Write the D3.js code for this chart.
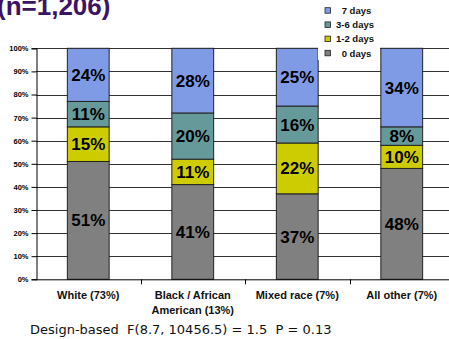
<!DOCTYPE html>
<html><head><meta charset="utf-8">
<script src="https://cdn.jsdelivr.net/npm/d3@7"></script>
<style>body{margin:0;background:#fff}svg{display:block}</style>
</head><body>
<svg id="c" width="449" height="339"></svg>
<script>
const categories = ["White (73%)", "Black / African American (13%)", "Mixed race (7%)", "All other (7%)"];
const categoryLines = [["White (73%)"], ["Black / African", "American (13%)"], ["Mixed race (7%)"], ["All other (7%)"]];
const seriesNames = ["0 days", "1-2 days", "3-6 days", "7 days"];
const days0 = [51, 41, 37, 48];
const days1_2 = [15, 11, 22, 10];
const days3_6 = [11, 20, 16, 8];
const days7 = [24, 28, 25, 34];
const yTicks = [0,10,20,30,40,50,60,70,80,90,100];
const colors = ["#808080", "#cccc00", "#669999", "#7f9be6"];
const title = "(n=1,206)";
const footnote = "Design-based  F(8.7, 10456.5) = 1.5  P = 0.13";

const series = [days0, days1_2, days3_6, days7];
const svg = d3.select("#c");
const pLeft = 36, pRight = 454, pTop = 48.3, pBottom = 279.3;
const x = d3.scaleBand().domain(categories).range([pLeft, pRight]).paddingInner(0.6).paddingOuter(0.3);
const xb = d3.scaleBand().domain(categories).range([pLeft, pRight]);
const y = d3.scaleLinear().domain([0, 100]).range([pBottom, pTop]).clamp(true);

// gridlines
svg.append("g").selectAll("line").data(yTicks.slice(1)).join("line")
  .attr("x1", pLeft).attr("x2", 449).attr("y1", d => Math.round(y(d)) + 0.5).attr("y2", d => Math.round(y(d)) + 0.5)
  .attr("stroke", "#333").attr("stroke-width", 1);

// stacked bars
const stackData = categories.map((c, i) => {
  const o = {cat: c};
  seriesNames.forEach((s, j) => o[s] = series[j][i]);
  return o;
});
const stacked = d3.stack().keys(seriesNames)(stackData);
const gb = svg.append("g");
stacked.forEach((layer, j) => {
  layer.forEach(seg => {
    const x0 = x(seg.data.cat), w = x.bandwidth();
    const y0 = y(seg[0]), y1 = y(seg[1]);
    gb.append("rect").attr("x", x0).attr("y", y1).attr("width", w).attr("height", y0 - y1)
      .attr("fill", colors[j]).attr("stroke", "#222").attr("stroke-width", 1);
  });
});
stacked.forEach((layer, j) => {
  layer.forEach(seg => {
    const yc = (y(seg[0]) + y(Math.min(100, seg[1]))) / 2;
    gb.append("text").attr("x", x(seg.data.cat) + x.bandwidth() / 2).attr("y", yc + 6)
      .attr("text-anchor", "middle").attr("font-family", "Liberation Sans, Arial, sans-serif")
      .attr("font-weight", "bold").attr("font-size", 17).attr("fill", "#000")
      .text((seg[1] - seg[0]) + "%");
  });
});

// y axis
const ya = svg.append("g").attr("transform", `translate(${pLeft + 0.5},0)`)
  .call(d3.axisLeft(y).tickValues(yTicks).tickFormat(d => d + "%").tickSize(5).tickPadding(3));
ya.select(".domain").attr("stroke", "#000");
ya.selectAll(".tick line").attr("stroke", "#000");
ya.selectAll("text").attr("font-family", "Liberation Sans, Arial, sans-serif").attr("font-weight", "bold").attr("font-size", 7.5).attr("fill", "#000");

// x axis
const xa = svg.append("g").attr("transform", `translate(0,${pBottom})`);
xa.append("line").attr("x1", pLeft).attr("x2", 449).attr("y1", 0.5).attr("y2", 0.5).attr("stroke", "#000");
xa.selectAll("line.t").data(categories.slice(1)).join("line").attr("class", "t")
  .attr("x1", d => Math.round(xb(d)) + 0.5).attr("x2", d => Math.round(xb(d)) + 0.5).attr("y1", 0).attr("y2", 5).attr("stroke", "#000");
xa.selectAll("text").data(categories).join("text")
  .attr("x", d => xb(d) + xb.bandwidth() / 2).attr("y", 19.5)
  .attr("text-anchor", "middle").attr("font-family", "Liberation Sans, Arial, sans-serif")
  .attr("font-weight", "bold").attr("font-size", 11).attr("fill", "#111")
  .each(function(d, i) {
    const t = d3.select(this);
    categoryLines[i].forEach((ln, k) => t.append("tspan").attr("x", xb(d) + xb.bandwidth() / 2).attr("dy", k ? 15 : 0).text(ln));
  });

// legend
const lg = svg.append("g");
lg.append("rect").attr("x", 318).attr("y", 0).attr("width", 62).attr("height", 60).attr("fill", "#fff");
const legendOrder = [3, 2, 1, 0];
legendOrder.forEach((j, k) => {
  const cy = 10.7 + k * 14.2;
  lg.append("rect").attr("x", 325).attr("y", cy - 3).attr("width", 5.5).attr("height", 5.5)
    .attr("fill", colors[j]).attr("stroke", "#222").attr("stroke-width", 0.8);
  lg.append("text").attr("x", seriesNames[j].length < 7 ? 341.7 : 336).attr("y", cy + 3.3)
    .attr("font-family", "Liberation Sans, Arial, sans-serif").attr("font-weight", "bold")
    .attr("font-size", 9.5).attr("fill", "#111").text(seriesNames[j]);
});

// title
svg.append("text").attr("x", -3).attr("y", 15).attr("font-family", "Liberation Sans, Arial, sans-serif")
  .attr("font-weight", "bold").attr("font-size", 26).attr("fill", "#3c1464").text(title);

// footnote
svg.append("text").attr("x", 30).attr("y", 334.3).attr("font-family", "DejaVu Sans, Verdana, sans-serif")
  .style("white-space", "pre").attr("xml:space", "preserve")
  .attr("font-size", 13).attr("fill", "#111").text(footnote);
</script>
</body></html>
